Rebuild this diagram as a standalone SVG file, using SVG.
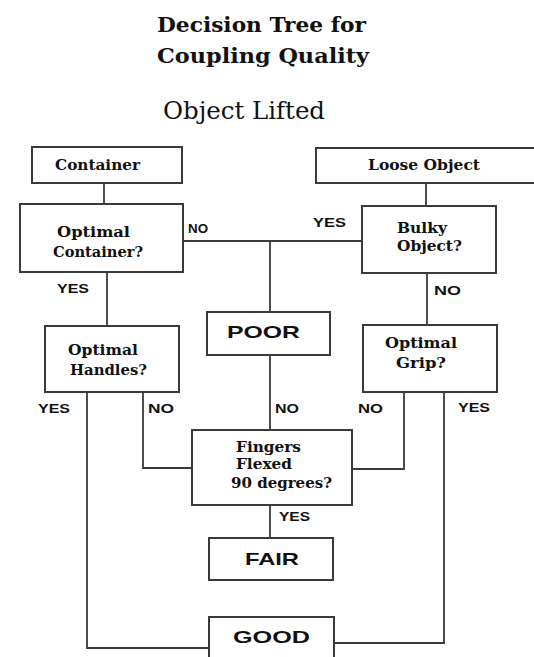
<svg xmlns="http://www.w3.org/2000/svg" width="534" height="657" viewBox="0 0 534 657">
<style>
.bg{fill:#fff}
.box{fill:#fff;stroke:#3a3a3a;stroke-width:2}
.ln{fill:none;stroke:#3a3a3a;stroke-width:1.8}
.t{font-family:"DejaVu Serif","Liberation Serif",serif;font-weight:bold;fill:#111}
.st{font-family:"DejaVu Serif","Liberation Serif",serif;fill:#111}
.b{font-family:"Liberation Sans",Arial,sans-serif;font-weight:bold;fill:#111}
</style>
<rect class="bg" x="0" y="0" width="534" height="657"/>
<g id="title">
<text class="t" x="157" y="32" font-size="20" textLength="209" lengthAdjust="spacingAndGlyphs">Decision Tree for</text>
<text class="t" x="157" y="63" font-size="20" textLength="212" lengthAdjust="spacingAndGlyphs">Coupling Quality</text>
<text class="st" x="163" y="119" font-size="24" textLength="162" lengthAdjust="spacingAndGlyphs">Object Lifted</text>
</g>
<g id="connectors">
<path class="ln" d="M104,183 V204"/>
<path class="ln" d="M183,241 H362"/>
<path class="ln" d="M270,241 V312"/>
<path class="ln" d="M107,272 V326"/>
<path class="ln" d="M426,183 V206"/>
<path class="ln" d="M427,273 V325"/>
<path class="ln" d="M270,355 V430"/>
<path class="ln" d="M87,392 V648 H209"/>
<path class="ln" d="M143,392 V468 H192"/>
<path class="ln" d="M404,392 V469 H352"/>
<path class="ln" d="M444,392 V643 H333"/>
<path class="ln" d="M270,505 V538"/>
<text class="b" x="188" y="233" font-size="13" textLength="20" lengthAdjust="spacingAndGlyphs">NO</text>
<text class="b" x="57" y="293" font-size="13" textLength="32" lengthAdjust="spacingAndGlyphs">YES</text>
<text class="b" x="313" y="227" font-size="13" textLength="33" lengthAdjust="spacingAndGlyphs">YES</text>
<text class="b" x="434" y="295" font-size="13" textLength="27" lengthAdjust="spacingAndGlyphs">NO</text>
<text class="b" x="38" y="413" font-size="13" textLength="32" lengthAdjust="spacingAndGlyphs">YES</text>
<text class="b" x="148" y="413" font-size="13" textLength="26" lengthAdjust="spacingAndGlyphs">NO</text>
<text class="b" x="275" y="413" font-size="13" textLength="24" lengthAdjust="spacingAndGlyphs">NO</text>
<text class="b" x="358" y="413" font-size="13" textLength="25" lengthAdjust="spacingAndGlyphs">NO</text>
<text class="b" x="458" y="412" font-size="13" textLength="32" lengthAdjust="spacingAndGlyphs">YES</text>
<text class="b" x="279" y="521" font-size="13" textLength="31" lengthAdjust="spacingAndGlyphs">YES</text>
</g>
<g id="container">
<rect class="box" x="32" y="147" width="150" height="36"/>
<text class="t" x="55" y="170" font-size="15" textLength="85" lengthAdjust="spacingAndGlyphs">Container</text>
</g>
<g id="optimal-container">
<rect class="box" x="20" y="204" width="163" height="68"/>
<text class="t" x="57" y="237" font-size="15" textLength="73" lengthAdjust="spacingAndGlyphs">Optimal</text>
<text class="t" x="53" y="257" font-size="15" textLength="90" lengthAdjust="spacingAndGlyphs">Container?</text>
</g>
<g id="loose-object">
<rect class="box" x="316" y="148" width="226" height="35"/>
<text class="t" x="368" y="170" font-size="15" textLength="112" lengthAdjust="spacingAndGlyphs">Loose Object</text>
</g>
<g id="bulky-object">
<rect class="box" x="362" y="206" width="134" height="67"/>
<text class="t" x="397" y="233" font-size="15" textLength="50" lengthAdjust="spacingAndGlyphs">Bulky</text>
<text class="t" x="397" y="251" font-size="15" textLength="65" lengthAdjust="spacingAndGlyphs">Object?</text>
</g>
<g id="poor">
<rect class="box" x="207" y="312" width="123" height="43"/>
<text class="b" x="227" y="338" font-size="17" textLength="73" lengthAdjust="spacingAndGlyphs">POOR</text>
</g>
<g id="optimal-handles">
<rect class="box" x="45" y="326" width="134" height="66"/>
<text class="t" x="68" y="355" font-size="15" textLength="70" lengthAdjust="spacingAndGlyphs">Optimal</text>
<text class="t" x="70" y="375" font-size="15" textLength="77" lengthAdjust="spacingAndGlyphs">Handles?</text>
</g>
<g id="optimal-grip">
<rect class="box" x="363" y="325" width="134" height="67"/>
<text class="t" x="385" y="348" font-size="15" textLength="72" lengthAdjust="spacingAndGlyphs">Optimal</text>
<text class="t" x="396" y="368" font-size="15" textLength="50" lengthAdjust="spacingAndGlyphs">Grip?</text>
</g>
<g id="fingers-flexed">
<rect class="box" x="192" y="430" width="160" height="75"/>
<text class="t" x="236" y="452" font-size="15" textLength="65" lengthAdjust="spacingAndGlyphs">Fingers</text>
<text class="t" x="236" y="469" font-size="15" textLength="56" lengthAdjust="spacingAndGlyphs">Flexed</text>
<text class="t" x="231" y="488" font-size="15" textLength="101" lengthAdjust="spacingAndGlyphs">90 degrees?</text>
</g>
<g id="fair">
<rect class="box" x="209" y="538" width="124" height="42"/>
<text class="b" x="245" y="565" font-size="17" textLength="54" lengthAdjust="spacingAndGlyphs">FAIR</text>
</g>
<g id="good">
<rect class="box" x="209" y="617" width="125" height="45"/>
<text class="b" x="233" y="643" font-size="17" textLength="77" lengthAdjust="spacingAndGlyphs">GOOD</text>
</g>
</svg>
